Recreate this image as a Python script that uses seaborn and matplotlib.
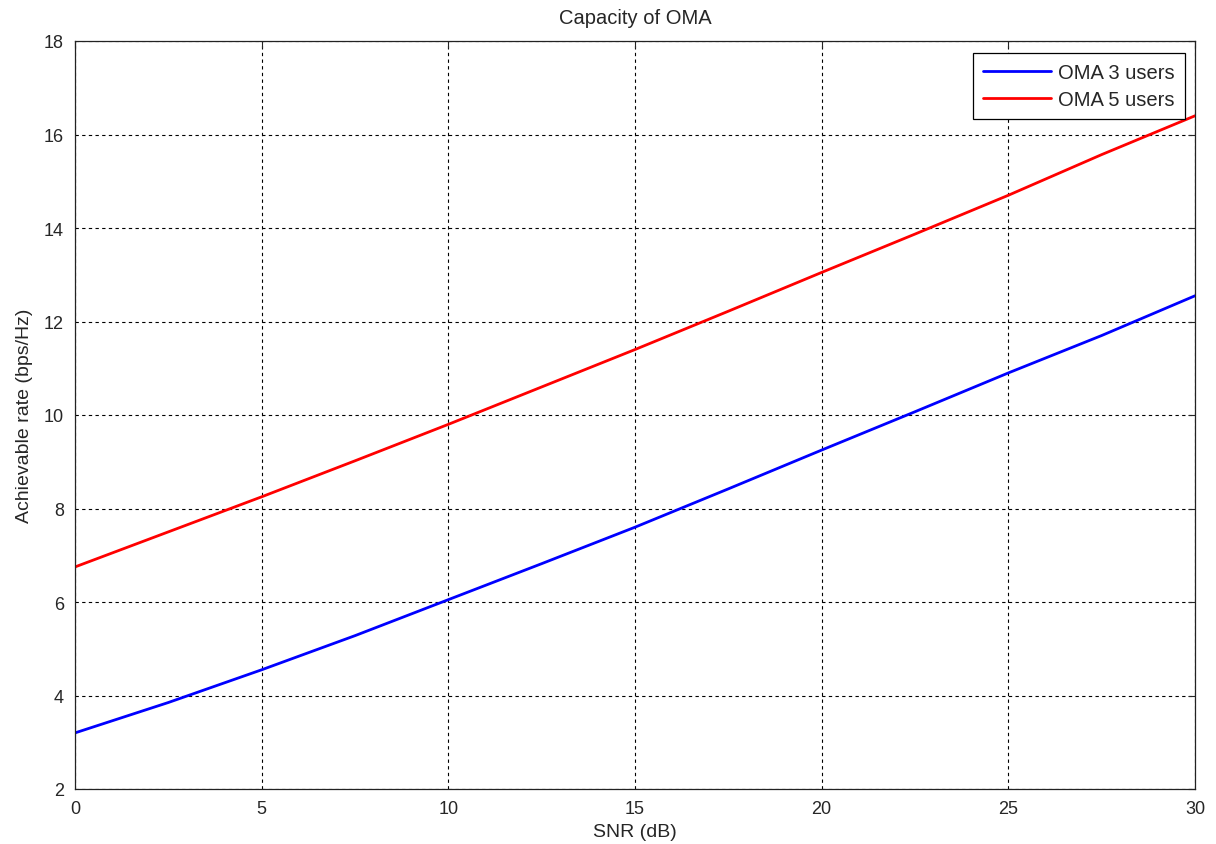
import matplotlib
matplotlib.use("Agg")
import matplotlib.pyplot as plt
import seaborn as sns
import pandas as pd

snr_db = [0, 2.5, 5, 7.5, 10, 12.5, 15, 17.5, 20, 22.5, 25, 27.5, 30]
oma3 = [3.2, 3.85, 4.55, 5.28, 6.05, 6.82, 7.6, 8.42, 9.25, 10.07, 10.9, 11.7, 12.55]
oma5 = [6.75, 7.5, 8.25, 9.02, 9.8, 10.6, 11.4, 12.22, 13.05, 13.87, 14.7, 15.57, 16.4]
series_names = ["OMA 3 users", "OMA 5 users"]

df = pd.DataFrame({
    "snr": snr_db * 2,
    "rate": oma3 + oma5,
    "series": [series_names[0]] * len(snr_db) + [series_names[1]] * len(snr_db),
})

sns.set_style("white")
plt.rcParams['font.family'] = ['Liberation Sans', 'DejaVu Sans']

fig = plt.figure(figsize=(12.16, 8.45), dpi=100)
ax = fig.add_axes([75/1216, 55/845, 1120/1216, 748/845])
sns.lineplot(data=df, x="snr", y="rate", hue="series",
             palette={series_names[0]: "#0000ff", series_names[1]: "#ff0000"},
             linewidth=2, ax=ax)

ax.set_xlim(0, 30)
ax.set_ylim(2, 18)
ax.set_xticks(range(0, 31, 5))
ax.set_yticks(range(2, 19, 2))
ax.grid(True, color="black", linestyle=(0, (3, 3)), linewidth=0.8)
ax.tick_params(direction="in", top=True, right=True, labelsize=13, length=5)
ax.tick_params(axis="x", pad=8)
ax.tick_params(axis="y", pad=8)
for s in ax.spines.values():
    s.set_color("#222222")
    s.set_linewidth(0.9)
ax.set_xlabel("SNR (dB)", fontsize=14, labelpad=4)
ax.set_ylabel("Achievable rate (bps/Hz)", fontsize=14, labelpad=8)
ax.set_title("Capacity of OMA", fontsize=14.5, pad=13)
leg = ax.legend(loc="upper right", fontsize=14.5, frameon=True, fancybox=False,
                edgecolor="black", framealpha=1,
                bbox_to_anchor=((1185 - 75) / 1120, (790 - 54) / 748),
                borderaxespad=0, borderpad=0.5, handlelength=3.4,
                handletextpad=0.35, labelspacing=0.4)
leg.get_frame().set_linewidth(0.9)

fig.savefig("out.png", dpi=100)
